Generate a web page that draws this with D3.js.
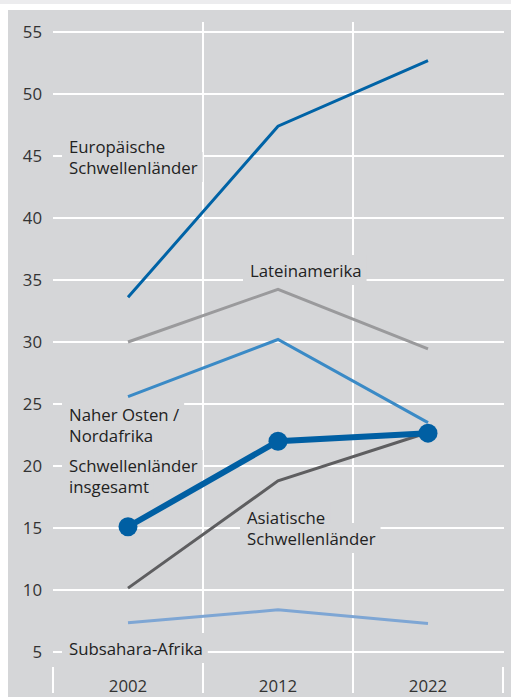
<!DOCTYPE html>
<html>
<head>
<meta charset="utf-8">
<script src="https://cdn.jsdelivr.net/npm/d3@7"></script>
<style>
  body { margin: 0; background: #fff; }
  svg { display: block; font-family: "Open Sans", sans-serif; }
</style>
</head>
<body>
<div id="root"></div>
<script>
const years = ['2002', '2012', '2022'];
const yTicks = [5, 10, 15, 20, 25, 30, 35, 40, 45, 50, 55];

const europa = [33.6, 47.4, 52.7];
const lateinamerika = [30.0, 34.25, 29.45];
const nahost = [25.6, 30.2, 23.5];
const insgesamt = [15.1, 22.0, 22.65];
const asien = [10.15, 18.8, 22.7];
const subsahara = [7.35, 8.4, 7.3];

const series = [
    { name: 'europa', values: europa, color: '#0063a6', width: 3 },
    { name: 'latein', values: lateinamerika, color: '#9a9a9c', width: 3 },
    { name: 'nahost', values: nahost, color: '#3a8ac6', width: 3 },
    { name: 'asien', values: asien, color: '#5e5e60', width: 3 },
    { name: 'subsahara', values: subsahara, color: '#7ea6d4', width: 3 },
    { name: 'insgesamt', values: insgesamt, color: '#005fa3', width: 6, dots: true }
];

// label lines, left x and first baseline
const labels = [
    { lines: ['Europäische', 'Schwellenländer'], x: 69, y: 153 },
    { lines: ['Lateinamerika'], x: 250, y: 277 },
    { lines: ['Naher Osten /', 'Nordafrika'], x: 69, y: 421 },
    { lines: ['Schwellenländer', 'insgesamt'], x: 69, y: 472 },
    { lines: ['Asiatische', 'Schwellenländer'], x: 247, y: 524 },
    { lines: ['Subsahara-Afrika'], x: 69, y: 655 }
];

const width = 511;
const height = 697;
const bg = '#d5d6d8';
const fs = 16.8;

const svg = d3.select('#root').append('svg')
    .attr('width', width)
    .attr('height', height);

// background bands
svg.append('rect').attr('x', 0).attr('y', 0).attr('width', width).attr('height', 4).attr('fill', '#ececee');
svg.append('rect').attr('x', 8).attr('y', 10).attr('width', width - 8).attr('height', height - 10).attr('fill', bg);

const x = d3.scaleBand().domain(years).range([53, 503]);
const y = d3.scaleLinear().domain([5, 55]).range([652, 32]);

// horizontal grid
svg.append('g')
    .selectAll('line')
    .data(yTicks)
    .join('line')
    .attr('x1', 53).attr('x2', 504)
    .attr('y1', d => y(d)).attr('y2', d => y(d))
    .attr('stroke', '#fff').attr('stroke-width', 2);

// vertical grid between years
svg.append('g')
    .selectAll('line')
    .data(years.slice(1))
    .join('line')
    .attr('x1', d => x(d)).attr('x2', d => x(d))
    .attr('y1', 22).attr('y2', 693)
    .attr('stroke', '#fff').attr('stroke-width', 2);

// outer ticks at bottom
svg.append('g')
    .selectAll('line')
    .data(x.range())
    .join('line')
    .attr('x1', d => d).attr('x2', d => d)
    .attr('y1', 667).attr('y2', 693)
    .attr('stroke', '#fff').attr('stroke-width', 2);

// y labels
svg.append('g')
    .selectAll('text')
    .data(yTicks)
    .join('text')
    .attr('x', 42)
    .attr('y', d => y(d) + 6)
    .attr('text-anchor', 'end')
    .attr('font-size', fs)
    .attr('fill', '#333')
    .text(d => d);

// x labels
svg.append('g')
    .selectAll('text')
    .data(years)
    .join('text')
    .attr('x', d => x(d) + x.bandwidth() / 2)
    .attr('y', 692)
    .attr('text-anchor', 'middle')
    .attr('font-size', fs)
    .attr('fill', '#333')
    .text(d => d);

// series labels; boxes in bg colour knock out the grid
const lineH = 21;
const boxes = svg.append('g');
const texts = svg.append('g');
labels.forEach(l => {
    l.lines.forEach((t, i) => {
        const txt = texts.append('text')
            .attr('x', l.x)
            .attr('y', l.y + i * lineH)
            .attr('font-size', fs)
            .attr('fill', '#222')
            .text(t);
        const w = txt.node().getComputedTextLength();
        boxes.append('rect').attr('fill', bg)
            .attr('x', l.x - 7).attr('y', l.y + i * lineH - 22)
            .attr('width', w + 12).attr('height', 30);
    });
});

const line = d3.line()
    .x((d, i) => x(years[i]) + x.bandwidth() / 2)
    .y(d => y(d));

series.forEach(s => {
    svg.append('path')
        .datum(s.values)
        .attr('d', line)
        .attr('fill', 'none')
        .attr('stroke', s.color)
        .attr('stroke-width', s.width);
    if (s.dots) {
        svg.append('g')
            .selectAll('circle')
            .data(s.values)
            .join('circle')
            .attr('cx', (d, i) => x(years[i]) + x.bandwidth() / 2)
            .attr('cy', d => y(d))
            .attr('r', 9.5)
            .attr('fill', s.color);
    }
});
</script>
</body>
</html>
